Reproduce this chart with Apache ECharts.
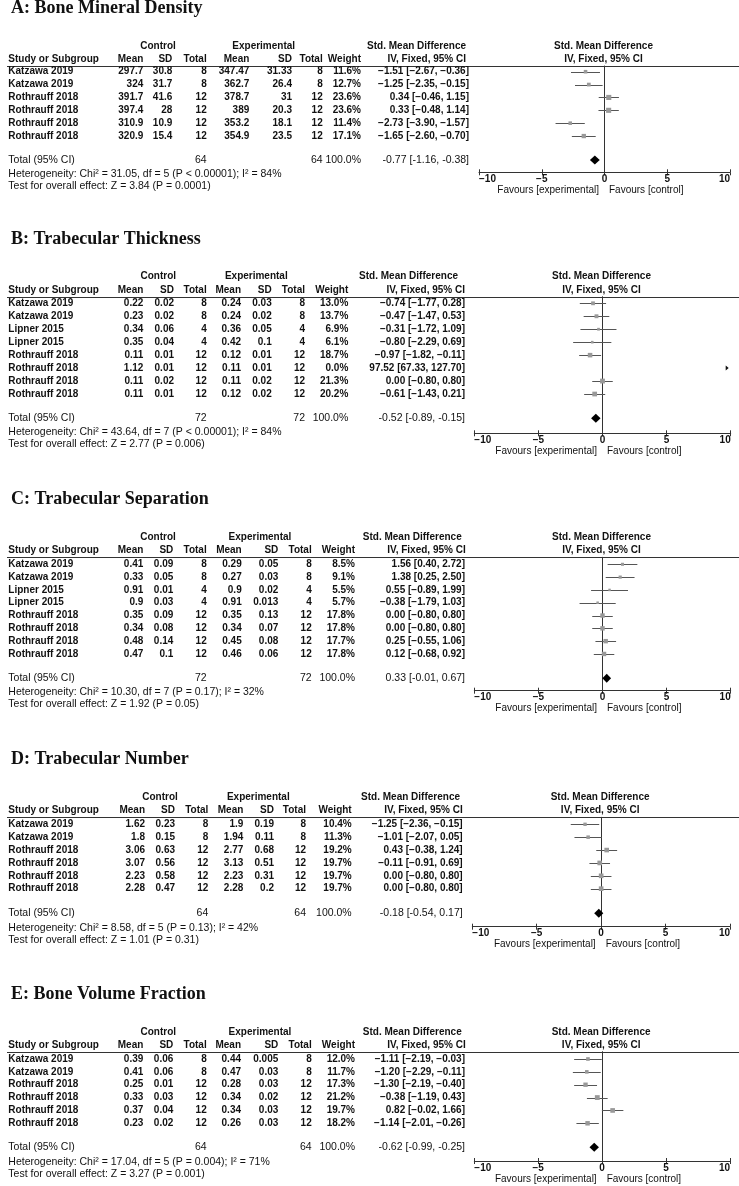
<!DOCTYPE html>
<html><head><meta charset="utf-8">
<script src="https://cdn.jsdelivr.net/npm/echarts@6/dist/echarts.min.js"></script>
<style>html,body{margin:0;padding:0;background:#fff}#c{width:739px;height:1186px}</style>
</head><body><div id="c"></div>
<script>
// ---------------- DATA ----------------
const panelTitles = ['A: Bone Mineral Density','B: Trabecular Thickness','C: Trabecular Separation','D: Trabecular Number','E: Bone Volume Fraction'];
// columns: study, ctrl mean, ctrl SD, ctrl total, exp mean, exp SD, exp total, weight %, SMD, CI low, CI high
const bmdRows = [
  ['Katzawa 2019', 297.7, 30.8, 8, 347.47, 31.33, 8, 11.6, -1.51, -2.67, -0.36],
  ['Katzawa 2019', 324, 31.7, 8, 362.7, 26.4, 8, 12.7, -1.25, -2.35, -0.15],
  ['Rothrauff 2018', 391.7, 41.6, 12, 378.7, 31, 12, 23.6, 0.34, -0.46, 1.15],
  ['Rothrauff 2018', 397.4, 28, 12, 389, 20.3, 12, 23.6, 0.33, -0.48, 1.14],
  ['Rothrauff 2018', 310.9, 10.9, 12, 353.2, 18.1, 12, 11.4, -2.73, -3.90, -1.57],
  ['Rothrauff 2018', 320.9, 15.4, 12, 354.9, 23.5, 12, 17.1, -1.65, -2.60, -0.70]
];
const tbThRows = [
  ['Katzawa 2019', 0.22, 0.02, 8, 0.24, 0.03, 8, 13.0, -0.74, -1.77, 0.28],
  ['Katzawa 2019', 0.23, 0.02, 8, 0.24, 0.02, 8, 13.7, -0.47, -1.47, 0.53],
  ['Lipner 2015', 0.34, 0.06, 4, 0.36, 0.05, 4, 6.9, -0.31, -1.72, 1.09],
  ['Lipner 2015', 0.35, 0.04, 4, 0.42, 0.1, 4, 6.1, -0.80, -2.29, 0.69],
  ['Rothrauff 2018', 0.11, 0.01, 12, 0.12, 0.01, 12, 18.7, -0.97, -1.82, -0.11],
  ['Rothrauff 2018', 1.12, 0.01, 12, 0.11, 0.01, 12, 0.0, 97.52, 67.33, 127.70],
  ['Rothrauff 2018', 0.11, 0.02, 12, 0.11, 0.02, 12, 21.3, 0.00, -0.80, 0.80],
  ['Rothrauff 2018', 0.11, 0.01, 12, 0.12, 0.02, 12, 20.2, -0.61, -1.43, 0.21]
];
const tbSpRows = [
  ['Katzawa 2019', 0.41, 0.09, 8, 0.29, 0.05, 8, 8.5, 1.56, 0.40, 2.72],
  ['Katzawa 2019', 0.33, 0.05, 8, 0.27, 0.03, 8, 9.1, 1.38, 0.25, 2.50],
  ['Lipner 2015', 0.91, 0.01, 4, 0.9, 0.02, 4, 5.5, 0.55, -0.89, 1.99],
  ['Lipner 2015', 0.9, 0.03, 4, 0.91, 0.013, 4, 5.7, -0.38, -1.79, 1.03],
  ['Rothrauff 2018', 0.35, 0.09, 12, 0.35, 0.13, 12, 17.8, 0.00, -0.80, 0.80],
  ['Rothrauff 2018', 0.34, 0.08, 12, 0.34, 0.07, 12, 17.8, 0.00, -0.80, 0.80],
  ['Rothrauff 2018', 0.48, 0.14, 12, 0.45, 0.08, 12, 17.7, 0.25, -0.55, 1.06],
  ['Rothrauff 2018', 0.47, 0.1, 12, 0.46, 0.06, 12, 17.8, 0.12, -0.68, 0.92]
];
const tbNRows = [
  ['Katzawa 2019', 1.62, 0.23, 8, 1.9, 0.19, 8, 10.4, -1.25, -2.36, -0.15],
  ['Katzawa 2019', 1.8, 0.15, 8, 1.94, 0.11, 8, 11.3, -1.01, -2.07, 0.05],
  ['Rothrauff 2018', 3.06, 0.63, 12, 2.77, 0.68, 12, 19.2, 0.43, -0.38, 1.24],
  ['Rothrauff 2018', 3.07, 0.56, 12, 3.13, 0.51, 12, 19.7, -0.11, -0.91, 0.69],
  ['Rothrauff 2018', 2.23, 0.58, 12, 2.23, 0.31, 12, 19.7, 0.00, -0.80, 0.80],
  ['Rothrauff 2018', 2.28, 0.47, 12, 2.28, 0.2, 12, 19.7, 0.00, -0.80, 0.80]
];
const bvRows = [
  ['Katzawa 2019', 0.39, 0.06, 8, 0.44, 0.005, 8, 12.0, -1.11, -2.19, -0.03],
  ['Katzawa 2019', 0.41, 0.06, 8, 0.47, 0.03, 8, 11.7, -1.20, -2.29, -0.11],
  ['Rothrauff 2018', 0.25, 0.01, 12, 0.28, 0.03, 12, 17.3, -1.30, -2.19, -0.40],
  ['Rothrauff 2018', 0.33, 0.03, 12, 0.34, 0.02, 12, 21.2, -0.38, -1.19, 0.43],
  ['Rothrauff 2018', 0.37, 0.04, 12, 0.34, 0.03, 12, 19.7, 0.82, -0.02, 1.66],
  ['Rothrauff 2018', 0.23, 0.02, 12, 0.26, 0.03, 12, 18.2, -1.14, -2.01, -0.26]
];
// totals: ctrl total, exp total, SMD, CI low, CI high
const bmdTotal = [64, 64, -0.77, -1.16, -0.38];
const tbThTotal = [72, 72, -0.52, -0.89, -0.15];
const tbSpTotal = [72, 72, 0.33, -0.01, 0.67];
const tbNTotal = [64, 64, -0.18, -0.54, 0.17];
const bvTotal = [64, 64, -0.62, -0.99, -0.25];
const hetTexts = [
  'Heterogeneity: Chi\u00b2 = 31.05, df = 5 (P < 0.00001); I\u00b2 = 84%',
  'Heterogeneity: Chi\u00b2 = 43.64, df = 7 (P < 0.00001); I\u00b2 = 84%',
  'Heterogeneity: Chi\u00b2 = 10.30, df = 7 (P = 0.17); I\u00b2 = 32%',
  'Heterogeneity: Chi\u00b2 = 8.58, df = 5 (P = 0.13); I\u00b2 = 42%',
  'Heterogeneity: Chi\u00b2 = 17.04, df = 5 (P = 0.004); I\u00b2 = 71%'
];
const testTexts = [
  'Test for overall effect: Z = 3.84 (P = 0.0001)',
  'Test for overall effect: Z = 2.77 (P = 0.006)',
  'Test for overall effect: Z = 1.92 (P = 0.05)',
  'Test for overall effect: Z = 1.01 (P = 0.31)',
  'Test for overall effect: Z = 3.27 (P = 0.001)'
];
const tickValues = [-10, -5, 0, 5, 10];
const tickLabels = ['\u221210', '\u22125', '0', '5', '10'];
const headerTop = ['Control', 'Experimental', 'Std. Mean Difference'];
const headerCols = ['Study or Subgroup', 'Mean', 'SD', 'Total', 'Mean', 'SD', 'Total', 'Weight', 'IV, Fixed, 95% CI'];
const favourLabels = ['Favours [experimental]', 'Favours [control]'];

const allRows = [bmdRows, tbThRows, tbSpRows, tbNRows, bvRows];
const allTotals = [bmdTotal, tbThTotal, tbSpTotal, tbNTotal, bvTotal];

// ---------------- LAYOUT ----------------
const layouts = [
 {titleY:8.5, h1:46, h2:59, line:66, row0:71.7, step:12.87, total:160, het:174, test:186, axis:172.3, plotL:479, plotR:730,
  cols:[143.3,172.3,206.7,249.3,292,322.7,361,469], ctrlC:158, expC:263.7, smdR:466, ivR:466},
 {titleY:239.5, h1:276.7, h2:290, line:296.7, row0:303.3, step:12.96, total:418.3, het:432, test:444.5, axis:433.3, plotL:474.3, plotR:730.7,
  cols:[143.3,174,206.7,241,271.7,305,348.3,465], ctrlC:158.3, expC:256.3, smdR:458, ivR:465},
 {titleY:499, h1:537.7, h2:550, line:557.3, row0:564.3, step:12.81, total:678.3, het:691.7, test:704, axis:690.7, plotL:474.3, plotR:730.7,
  cols:[143.3,173.3,206.7,241.7,278.3,311.7,355,465], ctrlC:158, expC:260, smdR:461.7, ivR:465.7},
 {titleY:759, h1:797.3, h2:810.7, line:817.3, row0:824.3, step:12.88, total:913.3, het:928.3, test:940.5, axis:926.7, plotL:472.3, plotR:730,
  cols:[145,175,208.3,243.3,274,306,351.7,462.7], ctrlC:160, expC:258.3, smdR:460, ivR:462.7},
 {titleY:994, h1:1032.3, h2:1045, line:1051.7, row0:1059, step:12.86, total:1147.3, het:1161.7, test:1174.3, axis:1161, plotL:474.3, plotR:730,
  cols:[143.3,173.3,206.7,241,278.3,311.7,355,465], ctrlC:158.3, expC:260, smdR:461.7, ivR:465.7}
];

const W = 739;
const FB = 'bold 10px "Liberation Sans", Arial, sans-serif';
const FN = 'normal 10.5px "Liberation Sans", Arial, sans-serif';
const FF = 'normal 10px "Liberation Sans", Arial, sans-serif';
const FT = 'bold 18px "Liberation Serif", "Times New Roman", serif';
const INK = '#111';

function txt(x, y, text, align, font) {
  return {type:'text', x:x, y:y, silent:true, z:10,
    style:{text:text, font:font, fill:INK, textAlign:align, textVerticalAlign:'middle', align:align, verticalAlign:'middle'}};
}
const minus = s => s.replace(/-/g, '\u2212');
function ciText(est, lo, hi, useMinus) {
  const s = est.toFixed(2) + ' [' + lo.toFixed(2) + ', ' + hi.toFixed(2) + ']';
  return useMinus ? minus(s) : s;
}

const graphics = [];
const grids = [], xAxes = [], yAxes = [], series = [];

function studyRender(params, api) {
  const y = api.value(0), est = api.value(1), lo = api.value(2), hi = api.value(3), w = api.value(4);
  const ch = [];
  const cLo = Math.max(lo, -10), cHi = Math.min(hi, 10);
  if (cLo < cHi) {
    const p1 = api.coord([cLo, y]), p2 = api.coord([cHi, y]);
    const yy = Math.round(p1[1]) + 0.5;
    ch.push({type:'line', shape:{x1:p1[0], y1:yy, x2:p2[0], y2:yy}, style:{stroke:'#555', lineWidth:1}});
  }
  if (est > 10) {
    const p = api.coord([10, y]);
    const x = p[0] - 2;
    ch.push({type:'polygon', shape:{points:[[x-3, p[1]-2.5],[x, p[1]],[x-3, p[1]+2.5]]}, style:{fill:'#111'}});
  } else if (est < -10) {
    const p = api.coord([-10, y]);
    const x = p[0] + 2;
    ch.push({type:'polygon', shape:{points:[[x+3, p[1]-2.5],[x, p[1]],[x+3, p[1]+2.5]]}, style:{fill:'#111'}});
  } else if (w > 0) {
    const p = api.coord([est, y]);
    const s = Math.max(2, Math.sqrt(w) * 1.05);
    ch.push({type:'rect', shape:{x:p[0]-s/2, y:p[1]-s/2, width:s, height:s}, style:{fill:'#999'}});
  }
  return {type:'group', children:ch};
}
function diamondRender(params, api) {
  const y = api.value(0), est = api.value(1), lo = api.value(2), hi = api.value(3);
  const c = api.coord([est, y]);
  let l = api.coord([lo, y])[0], r = api.coord([hi, y])[0];
  if (c[0] - l < 4) l = c[0] - 4;
  if (r - c[0] < 4) r = c[0] + 4;
  return {type:'polygon', shape:{points:[[l, c[1]],[c[0], c[1]-4.5],[r, c[1]],[c[0], c[1]+4.5]]}, style:{fill:'#000'}};
}

allRows.forEach((rows, p) => {
  const L = layouts[p];
  const tot = allTotals[p];
  const plotC = (L.plotL + L.plotR) / 2 - 1;
  graphics.push(txt(11, L.titleY, panelTitles[p], 'left', FT));
  graphics.push(txt(L.ctrlC, L.h1, headerTop[0], 'center', FB));
  graphics.push(txt(L.expC, L.h1, headerTop[1], 'center', FB));
  graphics.push(txt(L.smdR, L.h1, headerTop[2], 'right', FB));
  graphics.push(txt(plotC, L.h1, headerTop[2], 'center', FB));
  graphics.push(txt(8.3, L.h2, headerCols[0], 'left', FB));
  for (let k = 1; k <= 7; k++) graphics.push(txt(L.cols[k-1], L.h2, headerCols[k], 'right', FB));
  graphics.push(txt(L.ivR, L.h2, headerCols[8], 'right', FB));
  graphics.push(txt(plotC, L.h2, headerCols[8], 'center', FB));
  graphics.push({type:'line', silent:true, z:10, shape:{x1:7, y1:Math.round(L.line)+0.5, x2:W, y2:Math.round(L.line)+0.5}, style:{stroke:'#333', lineWidth:1}});
  rows.forEach((r, i) => {
    const y = L.row0 + i * L.step;
    graphics.push(txt(8.3, y, r[0], 'left', FB));
    for (let k = 1; k <= 6; k++) graphics.push(txt(L.cols[k-1], y, String(r[k]), 'right', FB));
    graphics.push(txt(L.cols[6], y, r[7].toFixed(1) + '%', 'right', FB));
    graphics.push(txt(L.cols[7], y, ciText(r[8], r[9], r[10], true), 'right', FB));
  });
  graphics.push(txt(8.3, L.total, 'Total (95% CI)', 'left', FN));
  graphics.push(txt(L.cols[2], L.total, String(tot[0]), 'right', FN));
  graphics.push(txt(L.cols[5], L.total, String(tot[1]), 'right', FN));
  graphics.push(txt(L.cols[6], L.total, '100.0%', 'right', FN));
  graphics.push(txt(L.cols[7], L.total, ciText(tot[2], tot[3], tot[4], false), 'right', FN));
  graphics.push(txt(8.3, L.het, hetTexts[p], 'left', FN));
  graphics.push(txt(8.3, L.test, testTexts[p], 'left', FN));
  const zeroX = L.plotL + (L.plotR - L.plotL) / 2;
  graphics.push(txt(zeroX - 5.5, L.axis + 18, favourLabels[0], 'right', FF));
  graphics.push(txt(zeroX + 4.5, L.axis + 18, favourLabels[1], 'left', FF));

  grids.push({left:L.plotL, width:L.plotR - L.plotL, top:L.line, height:L.axis - L.line});
  const xBase = {type:'value', gridIndex:p, min:-10, max:10, interval:5, position:'bottom',
    splitLine:{show:false}};
  xAxes.push(Object.assign({}, xBase, {
    axisLine:{show:true, onZero:false, lineStyle:{color:'#333', width:1}},
    axisTick:{show:true, inside:false, length:3, lineStyle:{color:'#333'}},
    axisLabel:{show:true, margin:2, color:INK, fontSize:10, fontWeight:'bold', fontFamily:'Liberation Sans',
      alignMinLabel:'left', alignMaxLabel:'right',
      formatter: v => { const k = tickValues.indexOf(v); return k >= 0 ? tickLabels[k] : ''; }}
  }));
  xAxes.push(Object.assign({}, xBase, {
    axisLine:{show:false, onZero:false},
    axisTick:{show:true, inside:true, length:3, lineStyle:{color:'#333'}},
    axisLabel:{show:false}
  }));
  const yMin = -(L.row0 - L.line) / L.step;
  const yMax = (L.axis - L.row0) / L.step;
  yAxes.push({type:'value', gridIndex:p, inverse:true, min:yMin, max:yMax,
    axisLine:{show:true, onZero:true, lineStyle:{color:'#333', width:1}},
    axisTick:{show:false}, axisLabel:{show:false}, splitLine:{show:false}});
  series.push({type:'custom', xAxisIndex:2*p, yAxisIndex:p, clip:false, silent:true,
    renderItem:studyRender, data: rows.map((r, i) => [i, r[8], r[9], r[10], r[7]])});
  const tIdx = (L.total - L.row0) / L.step;
  series.push({type:'custom', xAxisIndex:2*p, yAxisIndex:p, clip:false, silent:true,
    renderItem:diamondRender, data:[[tIdx, tot[2], tot[3], tot[4]]]});
});

const chart = echarts.init(document.getElementById('c'), null, {renderer:'canvas'});
chart.setOption({
  animation:false,
  backgroundColor:'#fff',
  grid:grids, xAxis:xAxes, yAxis:yAxes, series:series,
  graphic:{elements:graphics}
});
</script>
</body></html>
